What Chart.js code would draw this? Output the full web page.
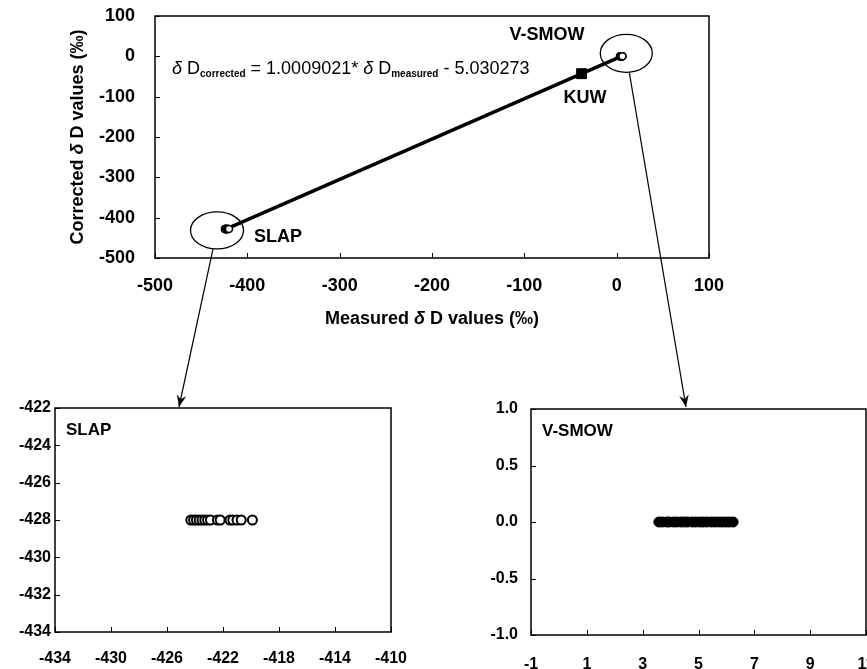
<!DOCTYPE html>
<html>
<head>
<meta charset="utf-8">
<script src="https://cdn.jsdelivr.net/npm/chart.js@4"></script>
<style>
  body { margin: 0; background: #fff; }
  #wrap { position: relative; width: 867px; height: 669px; overflow: hidden; background: #fff; }
  canvas { position: absolute; }
</style>
</head>
<body>
<div id="wrap">
  <canvas id="mainChart" width="867" height="420" style="left:0px;top:0px"></canvas>
  <canvas id="slapChart" width="420" height="274" style="left:0px;top:395px"></canvas>
  <canvas id="smowChart" width="480" height="274" style="left:440px;top:395px"></canvas>
</div>
<script>
// measured / corrected values
var slapX = [-424.3, -424.1, -423.9, -423.7, -423.5, -423.3, -423.1, -422.9, -422.4, -422.2, -421.5, -421.3, -421.0, -420.7, -419.9]
var slapY = [-428, -428, -428, -428, -428, -428, -428, -428, -428, -428, -428, -428, -428, -428, -428]
var smowX = [3.58, 3.7, 3.86, 3.95, 4.1, 4.22, 4.37, 4.5, 4.61, 4.78, 4.9, 5.05, 5.17, 5.3, 5.46, 5.58, 5.72, 5.85, 5.97, 6.1, 6.24]
var smowY = [0, 0, 0, 0, 0, 0, 0, 0, 0, 0, 0, 0, 0, 0, 0, 0, 0, 0, 0, 0, 0]
var kuwX = [-38]
var kuwY = [-43]
var fitX = [-422, 5]
var fitY = [-427.4, 0]

var mainXTicks = [-500, 100, 100]   // min, max, step
var mainYTicks = [-500, 100, 100]
var slapXTicks = [-434, -410, 4]
var slapYTicks = [-434, -422, 2]
var smowXTicks = [-1, 11, 2]
var smowYTicks = [-1, 1, 0.5]

const FONT = "'Liberation Sans', Arial, sans-serif"

function toPoints(xs, ys) {
    return xs.map((x, i) => ({ x: x, y: ys[i] }))
}

// frame and inward tick marks
const frameTicks = {
    id: 'frameTicks',
    afterDraw(chart) {
        const { ctx, chartArea: a, scales } = chart
        ctx.save()
        ctx.strokeStyle = '#000'
        ctx.lineWidth = 1.5
        ctx.strokeRect(a.left, a.top, a.right - a.left, a.bottom - a.top)
        ctx.lineWidth = 1
        ctx.beginPath()
        scales.x.ticks.forEach(t => {
            const px = Math.round(scales.x.getPixelForValue(t.value)) + 0.5
            ctx.moveTo(px, a.bottom)
            ctx.lineTo(px, a.bottom - 5)
        })
        scales.y.ticks.forEach(t => {
            const py = Math.round(scales.y.getPixelForValue(t.value)) + 0.5
            ctx.moveTo(a.left, py)
            ctx.lineTo(a.left + 5, py)
        })
        ctx.stroke()
        ctx.restore()
    }
}

function drawParts(ctx, parts, x, y) {
    parts.forEach(p => {
        ctx.font = p.font
        ctx.fillText(p.text, x, y + (p.dy || 0))
        x += ctx.measureText(p.text).width
    })
    return x
}

function partsWidth(ctx, parts) {
    let w = 0
    parts.forEach(p => {
        ctx.font = p.font
        w += ctx.measureText(p.text).width
    })
    return w
}

function arrow(ctx, x1, y1, x2, y2) {
    ctx.beginPath()
    ctx.moveTo(x1, y1)
    ctx.lineTo(x2, y2)
    ctx.stroke()
    const ang = Math.atan2(y2 - y1, x2 - x1)
    const len = 13
    const spread = 0.38
    ctx.beginPath()
    ctx.moveTo(x2, y2)
    ctx.lineTo(x2 - len * Math.cos(ang - spread), y2 - len * Math.sin(ang - spread))
    ctx.lineTo(x2 - len * 0.6 * Math.cos(ang), y2 - len * 0.6 * Math.sin(ang))
    ctx.lineTo(x2 - len * Math.cos(ang + spread), y2 - len * Math.sin(ang + spread))
    ctx.closePath()
    ctx.fill()
}

// texts, ellipses and arrows of the main panel
const mainNotes = {
    id: 'mainNotes',
    afterDraw(chart) {
        const { ctx, chartArea: a, scales } = chart
        const sx = scales.x, sy = scales.y
        ctx.save()
        ctx.fillStyle = '#000'
        ctx.strokeStyle = '#000'
        ctx.textBaseline = 'middle'

        // equation
        ctx.textAlign = 'left'
        drawParts(ctx, [
            { text: 'δ', font: 'italic 18px ' + FONT },
            { text: ' D', font: '18px ' + FONT },
            { text: 'corrected', font: 'bold 10px ' + FONT, dy: 5 },
            { text: ' = 1.0009021* ', font: '18px ' + FONT },
            { text: 'δ', font: 'italic 18px ' + FONT },
            { text: ' D', font: '18px ' + FONT },
            { text: 'measured', font: 'bold 10px ' + FONT, dy: 5 },
            { text: ' - 5.030273', font: '18px ' + FONT }
        ], a.left + 17, a.top + 53)

        // point labels
        ctx.font = 'bold 18px ' + FONT
        ctx.textAlign = 'center'
        ctx.fillText('V-SMOW', 547, 35)
        ctx.fillText('KUW', 585, 98)
        ctx.fillText('SLAP', 278, 237)

        // axis titles
        const xt = [
            { text: 'Measured ', font: 'bold 18px ' + FONT },
            { text: 'δ', font: 'italic bold 18px ' + FONT },
            { text: ' D values (‰)', font: 'bold 18px ' + FONT }
        ]
        ctx.textAlign = 'left'
        const xw = partsWidth(ctx, xt)
        drawParts(ctx, xt, (a.left + a.right) / 2 - xw / 2, 319)
        const yt = [
            { text: 'Corrected ', font: 'bold 18px ' + FONT },
            { text: 'δ', font: 'italic bold 18px ' + FONT },
            { text: ' D values (‰)', font: 'bold 18px ' + FONT }
        ]
        const yw = partsWidth(ctx, yt)
        ctx.translate(78, 137)
        ctx.rotate(-Math.PI / 2)
        drawParts(ctx, yt, -yw / 2, 0)
        ctx.setTransform(1, 0, 0, 1, 0, 0)

        // ellipses around the standards
        ctx.lineWidth = 1.3
        const slapPx = sx.getPixelForValue(-422), slapPy = sy.getPixelForValue(-428)
        const smowPx = sx.getPixelForValue(5), smowPy = sy.getPixelForValue(0)
        ctx.beginPath()
        ctx.ellipse(slapPx - 10, slapPy + 1.5, 26.5, 18.5, 0, 0, Math.PI * 2)
        ctx.stroke()
        ctx.beginPath()
        ctx.ellipse(smowPx + 5, smowPy - 3, 26, 19, 0, 0, Math.PI * 2)
        ctx.stroke()

        // arrows down to the zoomed panels
        ctx.lineWidth = 1.2
        arrow(ctx, slapPx - 14, slapPy + 20, 179, 407)
        arrow(ctx, smowPx + 8, smowPy + 16, 686, 407)
        ctx.restore()
    }
}

function panelLabel(text) {
    return {
        id: 'panelLabel',
        afterDraw(chart) {
            const { ctx, chartArea: a } = chart
            ctx.save()
            ctx.fillStyle = '#000'
            ctx.font = 'bold 17px ' + FONT
            ctx.textAlign = 'left'
            ctx.textBaseline = 'middle'
            ctx.fillText(text, a.left + 11, a.top + 22)
            ctx.restore()
        }
    }
}

// labelGap goes through the (hidden) tick length so it does not widen the layout padding
function axis(t, fontSize, labelGap, fixedSize, isX, fmt) {
    return {
        type: 'linear',
        min: t[0],
        max: t[1],
        grid: { display: false, drawTicks: true, tickLength: labelGap },
        border: { display: false },
        ticks: {
            stepSize: t[2],
            color: '#000',
            padding: 0,
            font: { family: FONT, size: fontSize, weight: 'bold' },
            callback: fmt || (v => String(v))
        },
        afterFit(scale) {
            if (isX) scale.height = fixedSize
            else scale.width = fixedSize
        }
    }
}

function baseOptions(padding, scales) {
    return {
        responsive: false,
        animation: false,
        layout: { padding: padding },
        plugins: { legend: { display: false }, tooltip: { enabled: false } },
        scales: scales
    }
}

function createMainChart() {
    const chartConfig = {
        type: 'scatter',
        data: {
            datasets: [
                {
                    label: 'KUW',
                    data: toPoints(kuwX, kuwY),
                    pointStyle: 'rect',
                    pointRadius: 7,
                    backgroundColor: '#000',
                    borderColor: '#000'
                },
                {
                    label: 'SLAP',
                    data: toPoints(slapX, slapY),
                    pointRadius: 3.5,
                    borderWidth: 1.5,
                    backgroundColor: '#fff',
                    borderColor: '#000'
                },
                {
                    label: 'V-SMOW',
                    data: toPoints(smowX, smowY),
                    pointRadius: 3.5,
                    borderWidth: 1.5,
                    backgroundColor: '#fff',
                    borderColor: '#000'
                },
                {
                    type: 'line',
                    label: 'fit',
                    data: toPoints(fitX, fitY),
                    showLine: true,
                    borderColor: '#000',
                    borderWidth: 3.5,
                    pointRadius: 0
                }
            ]
        },
        options: baseOptions({ left: 0, top: 16, right: 158, bottom: 0 }, {
            x: axis(mainXTicks, 18, 17, 162, true),
            y: axis(mainYTicks, 18, 20, 155, false)
        }),
        plugins: [frameTicks, mainNotes]
    }
    new Chart(document.getElementById('mainChart'), chartConfig)
}

function createSlapChart() {
    const chartConfig = {
        type: 'scatter',
        data: {
            datasets: [{
                label: 'SLAP',
                data: toPoints(slapX, slapY),
                pointRadius: 4.5,
                borderWidth: 2,
                backgroundColor: '#fff',
                borderColor: '#000'
            }]
        },
        options: baseOptions({ left: 0, top: 13, right: 29, bottom: 0 }, {
            x: axis(slapXTicks, 16, 17, 37, true),
            y: axis(slapYTicks, 16, 4, 55, false)
        }),
        plugins: [frameTicks, panelLabel('SLAP')]
    }
    new Chart(document.getElementById('slapChart'), chartConfig)
}

function createSmowChart() {
    const chartConfig = {
        type: 'scatter',
        data: {
            datasets: [{
                label: 'V-SMOW',
                data: toPoints(smowX, smowY),
                pointRadius: 5,
                borderWidth: 1,
                backgroundColor: '#000',
                borderColor: '#000'
            }]
        },
        options: baseOptions({ left: 0, top: 14, right: 54, bottom: 0 }, {
            x: axis(smowXTicks, 16, 20, 34, true),
            y: axis(smowYTicks, 16, 13, 91, false, v => v.toFixed(1))
        }),
        plugins: [frameTicks, panelLabel('V-SMOW')]
    }
    new Chart(document.getElementById('smowChart'), chartConfig)
}

createMainChart()
createSlapChart()
createSmowChart()
</script>
</body>
</html>
